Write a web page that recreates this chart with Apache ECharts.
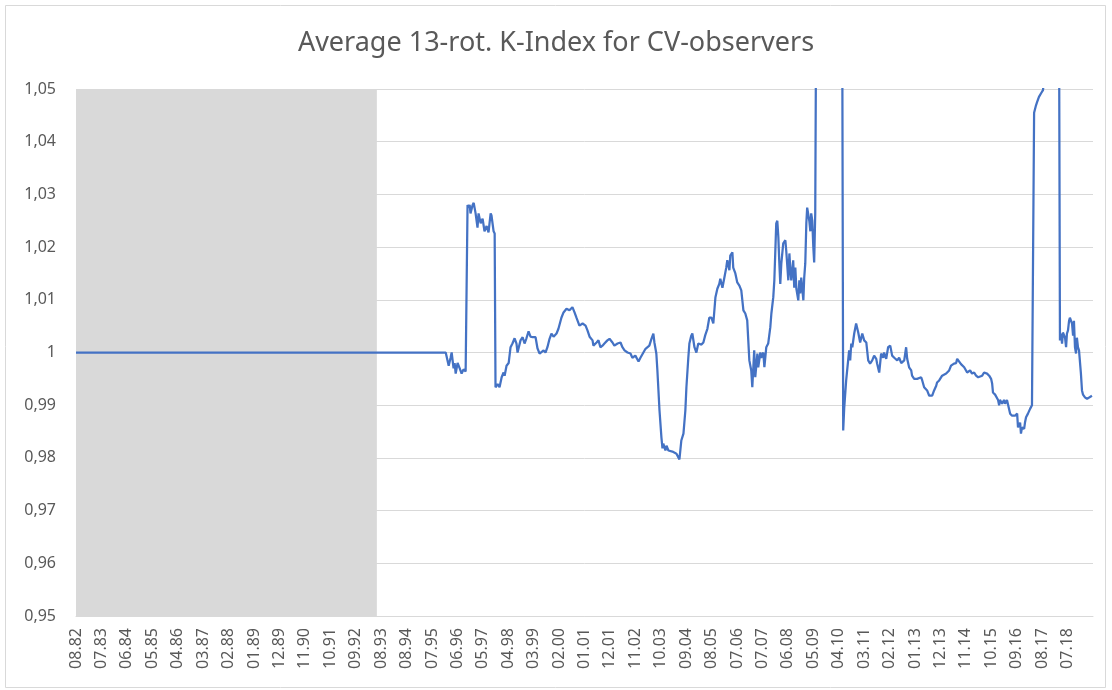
<!DOCTYPE html>
<html lang="en">
<head>
<meta charset="UTF-8">
<title>Average 13-rot. K-Index for CV-observers</title>
<script src="https://cdn.jsdelivr.net/npm/echarts@6/dist/echarts.min.js"></script>
<style>
  html, body { margin: 0; padding: 0; background: #fff; }
  #chart { width: 1112px; height: 690px; }
</style>
</head>
<body>
<div id="chart"></div>
<script>
// x axis labels, one every 12 rotations
var tickLabels = ['08.82','07.83','06.84','05.85','04.86','03.87','02.88','01.89','12.89','11.90',
  '10.91','09.92','08.93','08.94','07.95','06.96','05.97','04.98','03.99','02.00',
  '01.01','12.01','11.02','10.03','09.04','08.05','07.06','07.07','06.08','05.09',
  '04.10','03.11','02.12','01.13','12.13','11.14','10.15','09.16','08.17','07.18'];

// rotation number (from start of the plot) for each reading
var rot = [0,174.5,175.9,176.8,177.3,178.2,178.7,179.2,180.1,181.1,182.0,182.9,183.9,184.4,
  184.8,185.3,185.8,186.2,187.2,187.7,188.6,189.5,190.0,191.0,191.9,192.8,193.8,194.7,195.7,196.1,197.1,197.6,
  198.0,199.0,199.9,200.9,201.8,202.3,203.2,204.2,205.1,206.0,207.0,207.9,208.4,209.3,209.8,210.8,211.7,212.6,
  213.1,213.6,214.5,215.5,216.9,217.8,218.8,219.7,220.7,221.6,222.5,223.5,224.4,225.4,226.8,227.7,
  229.1,230.1,231.5,232.9,234.3,235.3,236.2,237.6,239.1,240.5,241.4,242.4,243.8,244.2,245.7,246.6,247.5,248.5,
  249.4,250.8,251.8,253.2,254.1,255.6,257.0,257.9,258.9,260.3,261.7,262.6,264.0,265.5,266.4,267.8,268.8,269.7,
  270.6,271.6,272.5,273.0,273.9,274.4,274.9,275.4,276.3,276.8,277.2,278.2,278.7,279.6,280.5,281.5,282.4,283.4,
  284.8,285.7,286.7,287.6,288.1,289.0,289.5,290.4,290.9,291.9,292.8,293.7,295.2,296.1,297.0,298.0,298.9,299.9,
  300.8,301.8,302.7,303.6,304.1,305.1,306.0,306.9,307.4,308.4,308.8,309.8,310.2,311.2,312.1,313.1,314.0,315.0,
  315.9,316.8,317.3,317.8,318.7,319.2,320.1,320.6,321.6,322.0,323.0,323.4,324.4,324.9,325.8,326.7,327.7,328.2,
  329.1,329.6,330.5,331.0,331.5,331.9,332.4,332.9,333.8,334.8,335.2,336.2,336.7,337.1,337.6,338.5,339.0,339.5,
  340.0,340.9,341.4,341.8,342.3,343.3,343.7,344.2,344.7,345.1,346.1,346.6,347.0,347.5,348.0,348.4,348.9,
  349.4,352.0,356.0,360.0,361.6,
  362.1,362.6,363.1,363.5,364.0,364.9,365.4,365.9,366.4,367.3,368.2,369.2,370.1,371.1,372.0,373.0,373.9,374.8,
  375.8,376.7,377.7,378.1,379.1,380.0,381.0,381.4,382.4,383.3,384.3,385.2,386.2,387.6,388.5,389.5,389.9,390.9,
  391.8,392.3,393.2,394.2,394.6,395.6,397.0,397.9,398.9,399.4,400.3,401.7,402.7,403.6,404.1,405.0,406.0,406.4,
  407.4,408.3,408.8,410.7,412.1,413.0,414.4,415.4,415.9,416.8,417.7,419.2,420.6,422.0,422.9,423.9,424.8,425.8,
  426.7,427.7,428.6,430.0,431.0,431.9,432.4,432.8,433.8,434.7,435.2,435.7,436.1,437.1,438.0,438.5,439.4,439.9,
  440.9,441.8,442.7,443.2,444.2,444.6,445.6,446.0,446.5,447.5,447.9,448.4,449.3,450.3,450.8,451.2,451.7,
  452.2,452.6,453.1,453.6,454.5,455.5,455.9,456.4,456.9,458.3,460.2,462.1,464.0,
  464.4,464.9,465.4,465.8,466.8,467.3,467.7,468.2,468.7,469.1,470.1,470.6,471.0,471.5,472.0,472.4,472.9,473.4,
  473.9,474.3,474.8,475.3,476.2,477.2,478.1,479.5];

// average K-index at each of those rotations
var kIndex = [1.0,1.0,0.9975,0.999,1.0,0.997,0.998,0.996,0.998,0.997,0.996,0.9968,0.9964,0.9966,
  1.028,1.0275,1.028,1.0264,1.028,1.0284,1.0264,1.0237,1.0264,1.0245,1.0254,1.023,1.024,1.0228,1.0264,1.026,1.023,1.0226,
  0.9934,0.994,0.9934,0.9953,0.9962,0.9956,0.9975,0.998,1.001,1.0017,1.0027,1.0017,1.0,1.0,1.0023,1.0029,1.0017,1.0027,
  1.0029,1.004,1.003,1.0029,1.0029,1.0008,0.9998,1.0,1.0004,1.0,1.001,1.0026,1.0036,1.003,1.0036,1.0045,
  1.0066,1.0076,1.0083,1.008,1.0086,1.0076,1.0066,1.0051,1.0055,1.0051,1.0042,1.003,1.0023,1.0013,1.0019,1.0023,1.001,1.0013,
  1.0017,1.0023,1.0026,1.0019,1.0013,1.0017,1.0019,1.001,1.0004,1.0,0.9998,0.999,0.9994,0.9983,0.999,1.0,1.0007,1.0007,
  1.0013,1.0026,1.0036,1.0019,0.9998,0.9966,0.9928,0.989,0.9839,0.9818,0.9827,0.9814,0.9823,0.9814,0.9816,0.9812,0.9814,0.9808,
  0.9797,0.9833,0.9846,0.989,0.9934,0.999,1.0017,1.0032,1.0036,1.001,1.0,1.0017,1.0015,1.0019,1.0033,1.0045,1.0066,1.0066,
  1.0055,1.0105,1.0121,1.013,1.014,1.0123,1.0142,1.0161,1.0175,1.0156,1.0184,1.019,1.0161,1.015,1.0133,1.0127,1.0118,1.008,
  1.0074,1.0061,1.0023,0.9985,0.9966,0.9934,1.0004,0.9953,0.9998,0.9972,1.0,0.999,1.0,0.9972,1.001,1.0017,1.0048,1.0074,
  1.0105,1.0137,1.0245,1.025,1.0218,1.0175,1.013,1.0169,1.0207,1.0213,1.0194,1.0137,1.0188,1.0161,1.0137,1.0175,1.0123,1.0161,
  1.0121,1.0099,1.0137,1.0112,1.0142,1.0099,1.0142,1.0169,1.0245,1.0275,1.025,1.023,1.0264,1.025,1.02,1.0171,1.0264,
  1.07,1.07,1.07,1.07,1.07,
  0.9852,0.9896,0.9894,0.9947,0.995,1.0004,0.9985,1.0017,1.001,1.0036,1.0055,1.0038,1.0019,1.0036,1.0023,1.0019,0.9985,0.9979,
  0.9985,0.9994,0.9988,0.9979,0.9962,0.9998,0.999,1.0,0.9988,1.001,1.0013,0.9994,0.999,0.9985,0.999,0.998,0.9979,0.9985,
  1.001,0.9988,0.9972,0.9966,0.9956,0.995,0.995,0.9947,0.9953,0.9947,0.9934,0.9928,0.9918,0.9915,0.9918,0.9928,0.9937,0.9943,
  0.9947,0.995,0.9956,0.996,0.9966,0.9975,0.9979,0.998,0.9988,0.9985,0.9978,0.9972,0.9962,0.9966,0.996,0.9962,0.9956,0.9953,
  0.995,0.9956,0.9962,0.996,0.9956,0.995,0.9941,0.9924,0.992,0.9918,0.991,0.99,0.991,0.9903,0.991,0.9903,0.991,0.9907,
  0.9884,0.988,0.9877,0.988,0.9884,0.9858,0.9867,0.9846,0.9858,0.9855,0.9867,0.9877,0.9884,0.9893,0.989,0.99,0.9903,
  1.0455,1.0455,1.0469,1.0475,1.0485,1.0492,1.049,1.0498,1.052,1.06,1.06,1.06,1.06,
  1.0023,1.0036,1.0017,1.0038,1.0028,1.001,1.0036,1.0042,1.006,1.0066,1.0055,1.0032,1.006,1.001,0.9998,1.0028,1.001,1.0004,
  1.0004,0.996,0.9928,0.992,0.9915,0.9912,0.9915,0.9918];

var shadeStart = 0;
var shadeEnd = 142;

var lineData = rot.map(function (r, i) { return [r, kIndex[i]]; });

var chart = echarts.init(document.getElementById('chart'));

var option = {
  backgroundColor: '#fff',
  animation: false,
  textStyle: { fontFamily: 'Noto Sans' },
  title: {
    text: 'Average 13-rot. K-Index for CV-observers',
    left: 'center',
    top: 25,
    textStyle: { fontSize: 27, fontWeight: 'normal', color: '#595959', fontFamily: 'Noto Sans' }
  },
  graphic: [{
    type: 'rect',
    shape: { x: 5.5, y: 5.5, width: 1100, height: 682 },
    style: { fill: 'none', stroke: '#d9d9d9', lineWidth: 1 },
    silent: true
  }],
  grid: { left: 76, right: 19, top: 89, bottom: 74 },
  xAxis: {
    type: 'value',
    min: 0,
    max: 480,
    interval: 12,
    axisLine: { show: true, lineStyle: { color: '#d9d9d9' } },
    axisTick: { show: false },
    splitLine: { show: false },
    axisLabel: {
      rotate: 90,
      margin: 12,
      color: '#595959',
      fontSize: 16,
      fontFamily: 'Noto Sans',
      showMaxLabel: false,
      formatter: function (v) {
        var i = Math.round(v / 12);
        return (Math.abs(v - i * 12) < 1e-6 && tickLabels[i]) ? tickLabels[i] : '';
      }
    }
  },
  yAxis: {
    type: 'value',
    min: 0.95,
    max: 1.05,
    interval: 0.01,
    axisLine: { show: false },
    axisTick: { show: false },
    splitLine: { lineStyle: { color: '#d9d9d9', width: 1 } },
    axisLabel: {
      margin: 20,
      color: '#595959',
      fontSize: 16,
      fontFamily: 'Noto Sans',
      formatter: function (v) {
        return String(Math.round(v * 100) / 100).replace('.', ',');
      }
    }
  },
  series: [
    {
      // grey shaded period
      type: 'line',
      data: [],
      z: 1,
      silent: true,
      markArea: {
        silent: true,
        itemStyle: { color: '#d9d9d9', opacity: 1 },
        data: [[{ xAxis: shadeStart }, { xAxis: shadeEnd }]]
      }
    },
    {
      type: 'line',
      data: lineData,
      z: 3,
      showSymbol: false,
      clip: true,
      sampling: null,
      lineStyle: { color: '#4472C4', width: 2.25 },
      itemStyle: { color: '#4472C4' }
    }
  ]
};

chart.setOption(option);
</script>
</body>
</html>
